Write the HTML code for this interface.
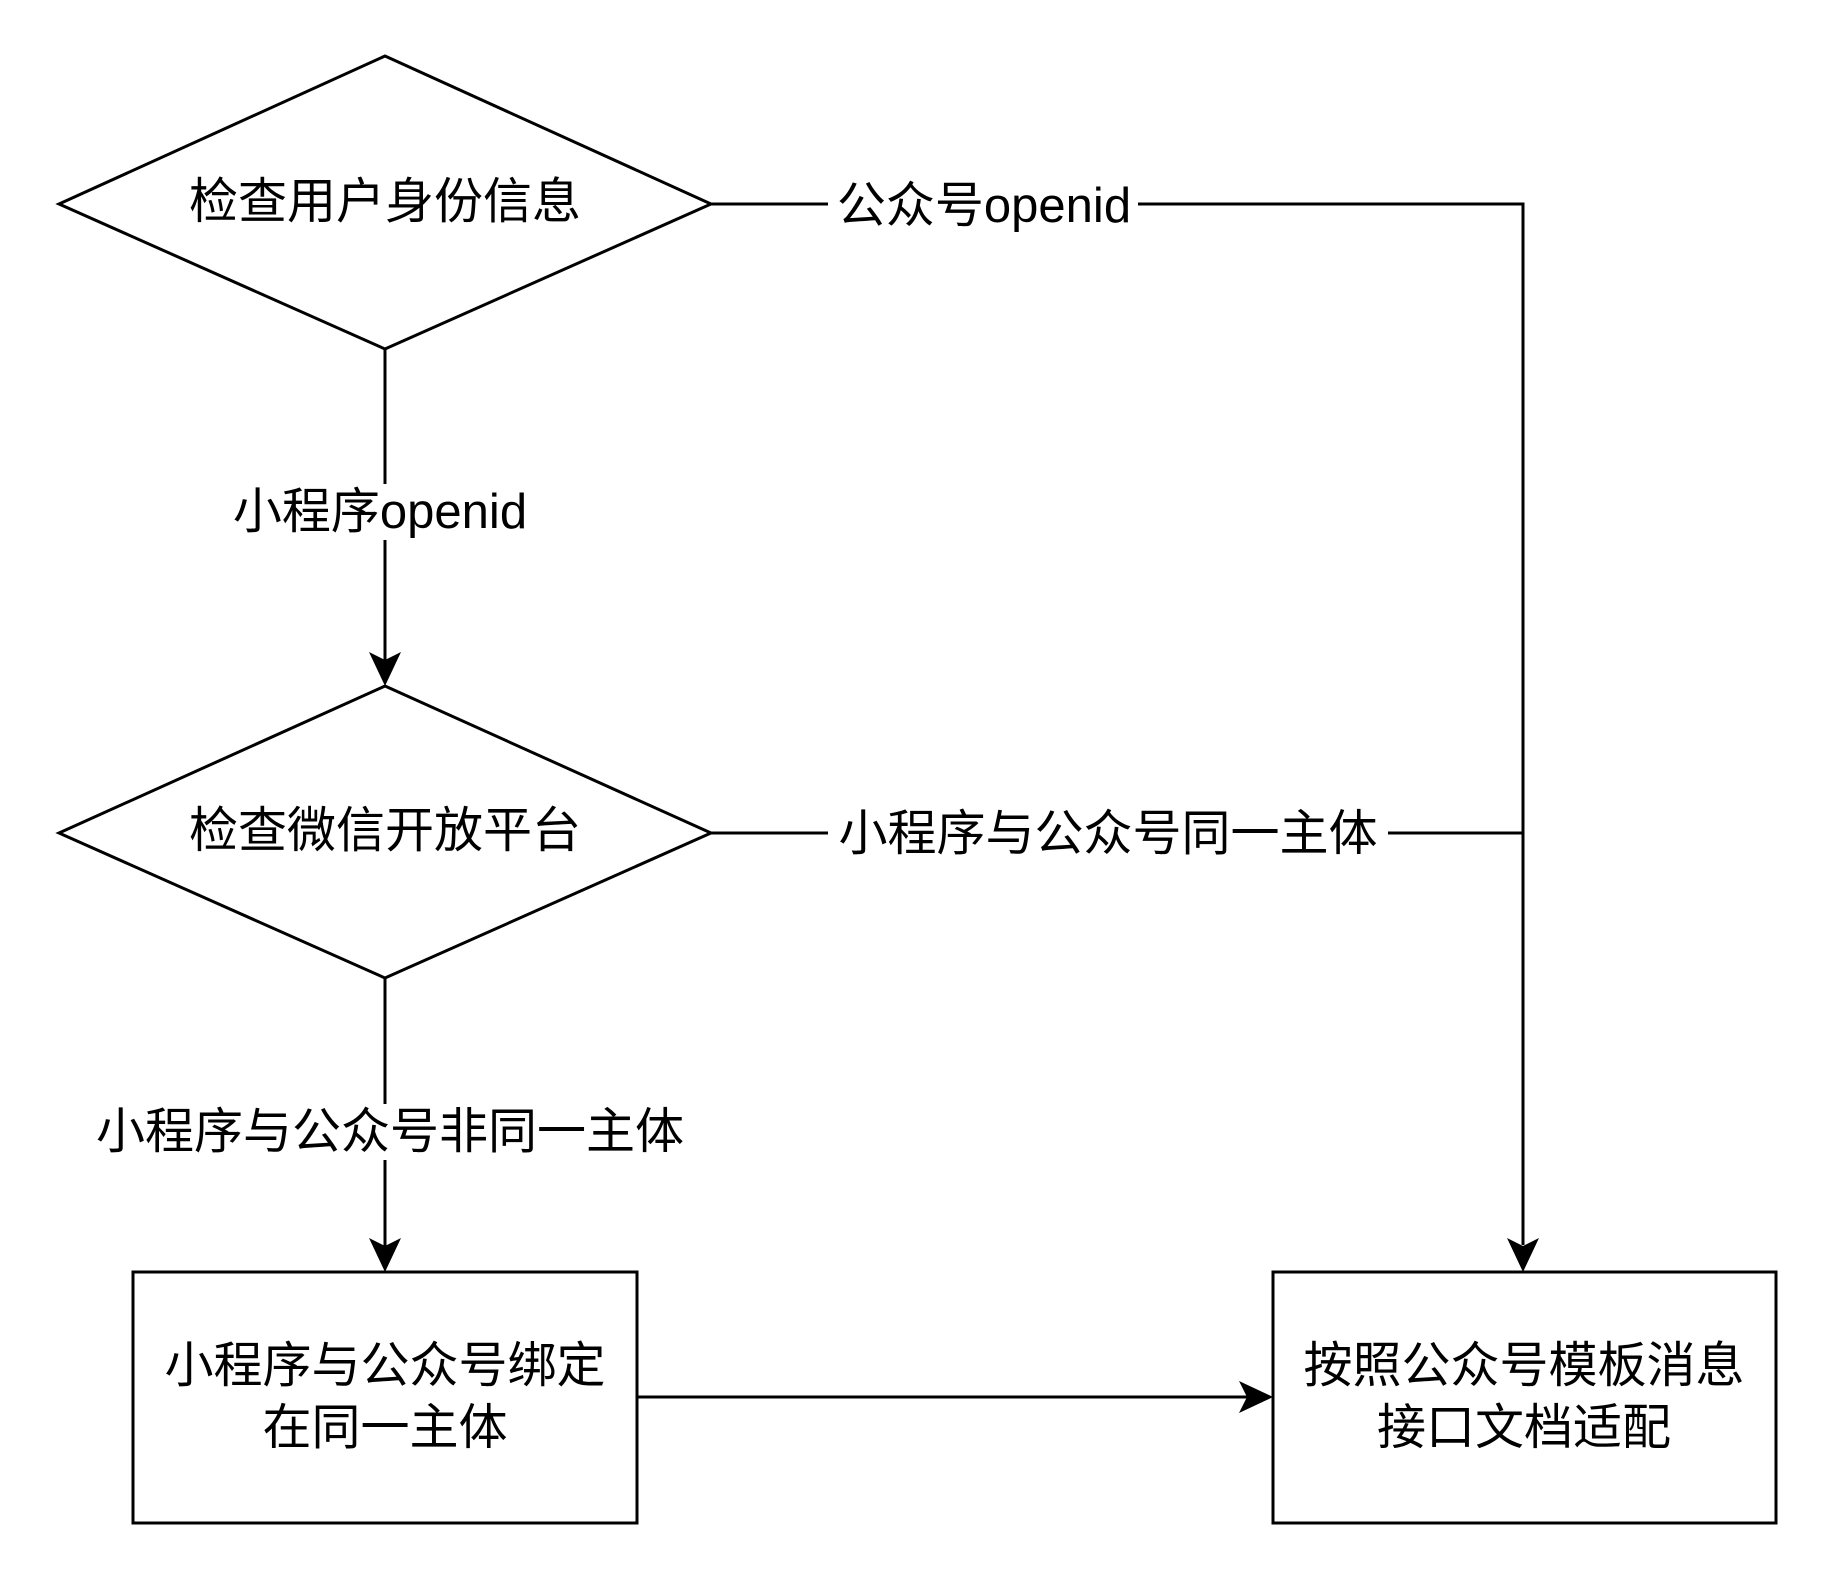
<!DOCTYPE html>
<html><head><meta charset="utf-8"><style>
html,body{margin:0;padding:0;background:#fff;}
svg text{font-family:"Liberation Sans","Noto Sans CJK SC",sans-serif;font-size:49px;fill:#000;}
</style></head><body>
<svg width="1827" height="1581" viewBox="0 0 1827 1581" xmlns="http://www.w3.org/2000/svg">
<g stroke="#000" stroke-width="3" fill="none">
<polygon points="385,56 711,204 385,349 59,204" fill="#fff"/>
<polygon points="385,686 711,833 385,978 59,833" fill="#fff"/>
<rect x="133" y="1272" width="504" height="251" fill="#fff"/>
<rect x="1273" y="1272" width="503" height="251" fill="#fff"/>
<polyline points="711,204 1523,204 1523,1245"/>
<line x1="711" y1="833" x2="1523" y2="833"/>
<line x1="385" y1="349" x2="385" y2="660"/>
<line x1="385" y1="978" x2="385" y2="1246"/>
<line x1="637" y1="1397" x2="1247" y2="1397"/>
</g>
<g fill="#000">
<path d="M385,686 L369,652 L385,660 L401,652 Z"/>
<path d="M385,1272 L369,1238 L385,1246 L401,1238 Z"/>
<path d="M1523,1272 L1507,1238 L1523,1246 L1539,1238 Z"/>
<path d="M1273,1397 L1239,1381 L1247,1397 L1239,1413 Z"/>
</g>
<g fill="#fff">
<rect x="828" y="178" width="310" height="56"/>
<rect x="828" y="806" width="560" height="56"/>
<rect x="220" y="484" width="320" height="56"/>
<rect x="85" y="1104" width="610" height="56"/>
</g>
<g text-anchor="middle" dominant-baseline="central">
<text x="385" y="202">检查用户身份信息</text>
<text x="385" y="831">检查微信开放平台</text>
<text x="984" y="206">公众号openid</text>
<text x="1108" y="834">小程序与公众号同一主体</text>
<text x="380" y="512">小程序openid</text>
<text x="390" y="1132">小程序与公众号非同一主体</text>
<text x="385" y="1366">小程序与公众号绑定</text>
<text x="385" y="1428">在同一主体</text>
<text x="1524" y="1366">按照公众号模板消息</text>
<text x="1524" y="1428">接口文档适配</text>
</g>
</svg>
</body></html>
